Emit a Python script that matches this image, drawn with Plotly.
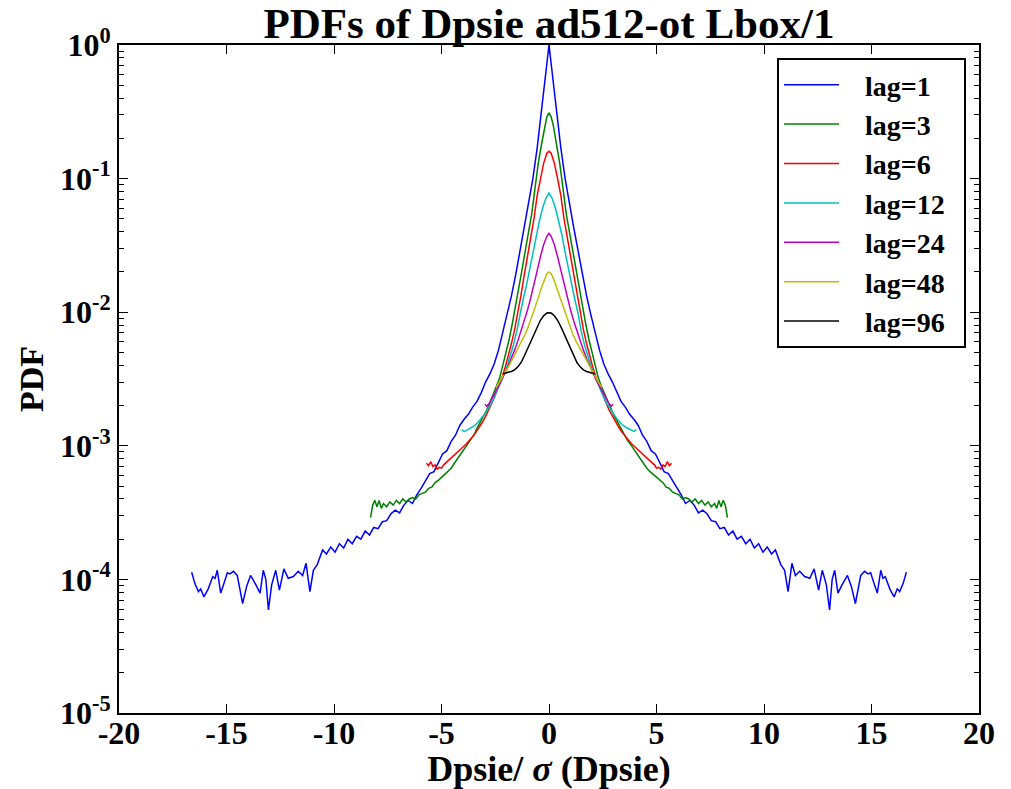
import plotly.graph_objects as go

# ---------------- data ----------------
lag1_x = [-16.62,-16.47,-16.31,-16.20,-16.05,-15.85,-15.64,-15.53,-15.43,-15.27,
          -15.12,-14.96,-14.84,-14.68,-14.50,-14.25,-14.06,-13.88,-13.63,-13.44,
          -13.29,-13.17,-13.05,-12.90,-12.71,-12.54,-12.33,-12.13,-11.89,-11.66,
          -11.46,-11.30,-11.12,-10.96,-10.78,-10.53,
          -10.35,-10.15,-9.95,-9.75,-9.55,-9.35,-9.15,-8.95,-8.75,-8.55,
          -8.35,-8.15,-7.95,-7.75,-7.55,-7.35,-7.15,-6.95,-6.75,-6.55,
          -6.35,-6.15,-5.95,-5.75,-5.55,-5.35,-5.15,-4.95,-4.75,-4.55,
          -4.35,-4.15,-3.95,-3.75,-3.55,-3.35,-3.15,-2.95,-2.75,-2.55,
          -2.35,-2.15,-1.95,-1.75,-1.55,-1.35,-1.15,-0.95,-0.75,-0.55,
          -0.45,-0.35,-0.25,-0.15,-0.05,0.0,
          0.05,0.15,0.25,0.35,0.45,
          0.55,0.75,0.95,1.15,1.35,1.55,1.75,1.95,2.15,2.35,
          2.55,2.75,2.95,3.15,3.35,3.55,3.75,3.95,4.15,4.35,
          4.55,4.75,4.95,5.15,5.35,5.55,5.75,5.95,6.15,6.35,
          6.55,6.75,6.95,7.15,7.35,7.55,7.75,7.95,8.15,8.35,
          8.55,8.75,8.95,9.15,9.35,9.55,9.75,9.95,10.15,10.35,
          10.53,10.78,10.96,11.12,11.30,11.46,
          11.66,11.89,12.13,12.33,12.54,12.71,12.90,13.05,13.17,13.29,
          13.44,13.63,13.88,14.06,14.25,14.50,14.68,14.84,14.96,15.12,
          15.27,15.43,15.53,15.64,15.85,16.05,16.20,16.31,16.47,16.62]
lag1_y = [1.13e-4,9.3e-5,8.1e-5,8.5e-5,7.4e-5,8.5e-5,1.05e-4,1.02e-4,1.17e-4,7.9e-5,
          9.3e-5,1.12e-4,1.10e-4,1.15e-4,1.07e-4,6.6e-5,8.9e-5,1.07e-4,9.1e-5,7.9e-5,
          1.17e-4,1.0e-4,5.9e-5,9.1e-5,1.17e-4,8.3e-5,1.2e-4,1.02e-4,1.05e-4,1.15e-4,
          1.07e-4,1.32e-4,8.1e-5,1.17e-4,1.29e-4,1.66e-4,
          1.55e-4,1.75e-4,1.6e-4,1.85e-4,1.72e-4,2.0e-4,1.85e-4,2.1e-4,2.0e-4,2.3e-4,
          2.15e-4,2.45e-4,2.4e-4,2.7e-4,2.75e-4,3.1e-4,3.3e-4,3.15e-4,3.6e-4,3.9e-4,
          3.7e-4,4.3e-4,4.8e-4,5.5e-4,6.2e-4,6.4e-4,7.5e-4,8.7e-4,9.2e-4,1.08e-3,
          1.2e-3,1.42e-3,1.58e-3,1.72e-3,1.95e-3,2.15e-3,2.5e-3,3.0e-3,3.45e-3,4.1e-3,
          5.2e-3,7.0e-3,9.5e-3,1.32e-2,1.9e-2,2.9e-2,4.3e-2,6.3e-2,0.10,0.17,
          0.23,0.32,0.43,0.60,0.85,1.0,
          0.85,0.60,0.43,0.32,0.23,
          0.17,0.10,6.3e-2,4.3e-2,2.9e-2,1.9e-2,1.32e-2,9.5e-3,7.0e-3,5.2e-3,
          4.1e-3,3.45e-3,3.0e-3,2.5e-3,2.15e-3,1.95e-3,1.72e-3,1.58e-3,1.42e-3,1.2e-3,
          1.08e-3,9.2e-4,8.7e-4,7.5e-4,6.4e-4,6.2e-4,5.5e-4,4.8e-4,4.3e-4,3.7e-4,
          3.9e-4,3.6e-4,3.15e-4,3.3e-4,3.1e-4,2.75e-4,2.7e-4,2.4e-4,2.45e-4,2.15e-4,
          2.3e-4,2.0e-4,2.1e-4,1.85e-4,2.0e-4,1.72e-4,1.85e-4,1.6e-4,1.75e-4,1.55e-4,
          1.66e-4,1.29e-4,1.17e-4,8.1e-5,1.32e-4,1.07e-4,
          1.15e-4,1.05e-4,1.02e-4,1.2e-4,8.3e-5,1.17e-4,9.1e-5,5.9e-5,1.0e-4,1.17e-4,
          7.9e-5,9.1e-5,1.07e-4,8.9e-5,6.6e-5,1.07e-4,1.15e-4,1.10e-4,1.12e-4,9.3e-5,
          7.9e-5,1.17e-4,1.02e-4,1.05e-4,8.5e-5,7.4e-5,8.5e-5,8.1e-5,9.3e-5,1.13e-4]

lag3_x = [-8.30,-8.20,-8.10,-8.00,-7.90,-7.80,-7.70,
          -7.55,-7.40,-7.25,-7.10,-6.95,-6.80,-6.65,-6.50,-6.35,-6.20,
          -6.05,-5.90,-5.75,-5.60,-5.45,-5.30,-5.15,-5.00,-4.85,-4.70,
          -4.55,-4.40,-4.25,-4.10,-3.95,-3.80,-3.65,-3.50,-3.35,-3.20,
          -3.05,-2.90,-2.75,-2.60,-2.45,-2.30,-2.15,-2.00,-1.85,-1.70,
          -1.55,-1.40,-1.25,-1.10,-0.95,-0.80,-0.65,-0.50,-0.35,-0.20,
          -0.10,0.0,0.10,
          0.20,0.35,0.50,0.65,0.80,0.95,1.10,1.25,1.40,1.55,
          1.70,1.85,2.00,2.15,2.30,2.45,2.60,2.75,2.90,3.05,
          3.20,3.35,3.50,3.65,3.80,3.95,4.10,4.25,4.40,4.55,
          4.70,4.85,5.00,5.15,5.30,5.45,5.60,5.75,5.90,6.05,
          6.20,6.35,6.50,6.65,6.80,6.95,7.10,7.25,7.40,7.55,
          7.70,7.80,7.90,8.00,8.10,8.20,8.30]
lag3_y = [2.9e-4,3.6e-4,3.9e-4,3.5e-4,3.9e-4,3.4e-4,3.7e-4,
          3.5e-4,3.8e-4,3.6e-4,3.9e-4,3.7e-4,4.0e-4,3.8e-4,4.0e-4,4.1e-4,4.0e-4,
          4.3e-4,4.4e-4,4.5e-4,4.8e-4,4.9e-4,5.3e-4,5.5e-4,5.8e-4,6.1e-4,6.4e-4,
          6.8e-4,7.4e-4,8.0e-4,8.7e-4,9.4e-4,1.02e-3,1.1e-3,1.2e-3,1.35e-3,1.5e-3,
          1.65e-3,1.85e-3,2.1e-3,2.4e-3,2.75e-3,3.2e-3,4.0e-3,5.0e-3,6.3e-3,8.3e-3,
          1.12e-2,1.48e-2,2.1e-2,2.9e-2,4.0e-2,5.5e-2,8.5e-2,0.13,0.18,0.25,
          0.29,0.31,0.29,
          0.25,0.18,0.13,8.5e-2,5.5e-2,4.0e-2,2.9e-2,2.1e-2,1.48e-2,1.12e-2,
          8.3e-3,6.3e-3,5.0e-3,4.0e-3,3.2e-3,2.75e-3,2.4e-3,2.1e-3,1.85e-3,1.65e-3,
          1.5e-3,1.35e-3,1.2e-3,1.1e-3,1.02e-3,9.4e-4,8.7e-4,8.0e-4,7.4e-4,6.8e-4,
          6.4e-4,6.1e-4,5.8e-4,5.5e-4,5.3e-4,4.9e-4,4.8e-4,4.5e-4,4.4e-4,4.3e-4,
          4.0e-4,4.1e-4,4.0e-4,3.8e-4,4.0e-4,3.7e-4,3.9e-4,3.6e-4,3.8e-4,3.5e-4,
          3.7e-4,3.4e-4,3.9e-4,3.5e-4,3.9e-4,3.6e-4,2.9e-4]

lag6_x = [-5.70,-5.60,-5.50,-5.40,-5.30,-5.20,-5.10,-5.00,-4.90,
          -4.75,-4.60,-4.45,-4.30,-4.15,-4.00,-3.85,-3.70,-3.55,-3.40,
          -3.25,-3.10,-2.95,-2.80,-2.65,-2.50,-2.35,-2.20,-2.05,-1.90,
          -1.75,-1.60,-1.45,-1.30,-1.15,-1.00,-0.85,-0.70,-0.55,-0.40,
          -0.25,-0.10,0.0,0.10,0.25,
          0.40,0.55,0.70,0.85,1.00,1.15,1.30,1.45,1.60,1.75,
          1.90,2.05,2.20,2.35,2.50,2.65,2.80,2.95,3.10,3.25,
          3.40,3.55,3.70,3.85,4.00,4.15,4.30,4.45,4.60,4.75,
          4.90,5.00,5.10,5.20,5.30,5.40,5.50,5.60,5.70]
lag6_y = [7.4e-4,7.1e-4,7.6e-4,7.0e-4,7.2e-4,6.7e-4,6.9e-4,6.8e-4,7.2e-4,
          7.6e-4,8.0e-4,8.4e-4,8.8e-4,9.3e-4,9.8e-4,1.03e-3,1.09e-3,1.17e-3,1.26e-3,
          1.37e-3,1.5e-3,1.66e-3,1.85e-3,2.1e-3,2.4e-3,2.75e-3,3.2e-3,3.8e-3,4.6e-3,
          5.8e-3,7.4e-3,9.8e-3,1.35e-2,1.9e-2,2.6e-2,3.6e-2,5.0e-2,7.5e-2,0.10,
          0.13,0.155,0.16,0.155,0.13,
          0.10,7.5e-2,5.0e-2,3.6e-2,2.6e-2,1.9e-2,1.35e-2,9.8e-3,7.4e-3,5.8e-3,
          4.6e-3,3.8e-3,3.2e-3,2.75e-3,2.4e-3,2.1e-3,1.85e-3,1.66e-3,1.5e-3,1.37e-3,
          1.26e-3,1.17e-3,1.09e-3,1.03e-3,9.8e-4,9.3e-4,8.8e-4,8.4e-4,8.0e-4,7.6e-4,
          7.2e-4,6.8e-4,6.9e-4,6.7e-4,7.2e-4,7.0e-4,7.6e-4,7.1e-4,7.4e-4]

lag12_x = [-4.06,-3.95,-3.85,-3.75,-3.60,-3.45,-3.30,-3.15,-3.00,-2.85,
           -2.70,-2.55,-2.40,-2.25,-2.10,-1.95,-1.80,-1.65,-1.50,-1.35,
           -1.20,-1.05,-0.90,-0.75,-0.60,-0.45,-0.30,-0.15,0.0,
           0.15,0.30,0.45,0.60,0.75,0.90,1.05,1.20,1.35,1.50,
           1.65,1.80,1.95,2.10,2.25,2.40,2.55,2.70,2.85,3.00,
           3.15,3.30,3.45,3.60,3.75,3.85,3.95,4.06]
lag12_y = [1.32e-3,1.28e-3,1.30e-3,1.33e-3,1.37e-3,1.42e-3,1.5e-3,1.6e-3,1.72e-3,1.88e-3,
           2.05e-3,2.3e-3,2.6e-3,2.95e-3,3.4e-3,3.95e-3,4.7e-3,5.7e-3,7.2e-3,9.8e-3,
           1.25e-2,1.58e-2,2.1e-2,2.8e-2,3.8e-2,4.8e-2,6.0e-2,7.1e-2,7.8e-2,
           7.1e-2,6.0e-2,4.8e-2,3.8e-2,2.8e-2,2.1e-2,1.58e-2,1.25e-2,9.8e-3,7.2e-3,
           5.7e-3,4.7e-3,3.95e-3,3.4e-3,2.95e-3,2.6e-3,2.3e-3,2.05e-3,1.88e-3,1.72e-3,
           1.6e-3,1.5e-3,1.42e-3,1.37e-3,1.33e-3,1.30e-3,1.28e-3,1.32e-3]

lag24_x = [-2.98,-2.90,-2.80,-2.65,-2.50,-2.35,-2.20,-2.05,-1.90,-1.75,
           -1.60,-1.45,-1.30,-1.15,-1.00,-0.85,-0.70,-0.55,-0.40,-0.25,
           -0.10,0.0,0.10,
           0.25,0.40,0.55,0.70,0.85,1.00,1.15,1.30,1.45,1.60,
           1.75,1.90,2.05,2.20,2.35,2.50,2.65,2.80,2.90,2.98]
lag24_y = [2.05e-3,1.98e-3,2.05e-3,2.25e-3,2.5e-3,2.8e-3,3.1e-3,3.5e-3,3.95e-3,4.5e-3,
           5.2e-3,6.1e-3,7.2e-3,8.6e-3,1.04e-2,1.28e-2,1.58e-2,2.05e-2,2.6e-2,3.2e-2,
           3.7e-2,3.9e-2,3.7e-2,
           3.2e-2,2.6e-2,2.05e-2,1.58e-2,1.28e-2,1.04e-2,8.6e-3,7.2e-3,6.1e-3,5.2e-3,
           4.5e-3,3.95e-3,3.5e-3,3.1e-3,2.8e-3,2.5e-3,2.25e-3,2.05e-3,1.98e-3,2.05e-3]

lag48_x = [-2.45,-2.30,-2.15,-2.00,-1.85,-1.70,-1.55,-1.40,-1.25,-1.10,
           -0.95,-0.80,-0.65,-0.50,-0.35,-0.20,-0.10,0.0,0.10,0.20,
           0.35,0.50,0.65,0.80,0.95,1.10,1.25,1.40,1.55,1.70,
           1.85,2.00,2.15,2.30,2.45]
lag48_y = [2.75e-3,3.0e-3,3.3e-3,3.65e-3,4.0e-3,4.45e-3,4.95e-3,5.5e-3,6.1e-3,6.9e-3,
           7.9e-3,9.2e-3,1.08e-2,1.28e-2,1.53e-2,1.8e-2,1.94e-2,2.0e-2,1.94e-2,1.8e-2,
           1.53e-2,1.28e-2,1.08e-2,9.2e-3,7.9e-3,6.9e-3,6.1e-3,5.5e-3,4.95e-3,4.45e-3,
           4.0e-3,3.65e-3,3.3e-3,3.0e-3,2.75e-3]

lag96_x = [-2.14,-2.05,-1.90,-1.75,-1.60,-1.45,-1.30,-1.15,-1.00,-0.85,
           -0.70,-0.55,-0.40,-0.25,-0.10,0.0,0.10,0.25,0.40,0.55,
           0.70,0.85,1.00,1.15,1.30,1.45,1.60,1.75,1.90,2.05,2.14]
lag96_y = [3.45e-3,3.5e-3,3.55e-3,3.6e-3,3.7e-3,3.9e-3,4.2e-3,4.7e-3,5.3e-3,6.1e-3,
           6.9e-3,7.8e-3,8.7e-3,9.4e-3,9.85e-3,9.9e-3,9.85e-3,9.4e-3,8.7e-3,7.8e-3,
           6.9e-3,6.1e-3,5.3e-3,4.7e-3,4.2e-3,3.9e-3,3.7e-3,3.6e-3,3.55e-3,3.5e-3,3.45e-3]

series_names = ["lag=1", "lag=3", "lag=6", "lag=12", "lag=24", "lag=48", "lag=96"]
series_x = [lag1_x, lag3_x, lag6_x, lag12_x, lag24_x, lag48_x, lag96_x]
series_y = [lag1_y, lag3_y, lag6_y, lag12_y, lag24_y, lag48_y, lag96_y]
series_colors = ["#0000ff", "#008000", "#ff0000", "#00bfbf", "#bf00bf", "#bfbf00", "#000000"]

x_tickvals = [-20, -15, -10, -5, 0, 5, 10, 15, 20]
x_ticktext = ["-20", "-15", "-10", "-5", "0", "5", "10", "15", "20"]
y_tickvals = [1e-5, 1e-4, 1e-3, 1e-2, 1e-1, 1]
y_ticktext = ["10<sup>-5</sup>", "10<sup>-4</sup>", "10<sup>-3</sup>",
              "10<sup>-2</sup>", "10<sup>-1</sup>", "10<sup>0</sup>"]
y_minor = [m * d for d in [1e-5, 1e-4, 1e-3, 1e-2, 1e-1] for m in range(2, 10)]

FONT = "Liberation Serif"
PAD = "\u00a0\u00a0\u00a0"
TAIL = "\u00a0\u00a0"

fig = go.Figure()
for name, xs, ys, col in zip(series_names, series_x, series_y, series_colors):
    fig.add_trace(go.Scatter(x=xs, y=ys, mode="lines", name=PAD + name + TAIL,
                             line=dict(color=col, width=1.5)))

axis_common = dict(showline=True, linecolor="black", linewidth=2, mirror="ticks",
                   ticks="inside", tickcolor="black", tickwidth=1.3,
                   showgrid=False, zeroline=False, automargin=False,
                   tickfont=dict(family=FONT, size=32, color="black", weight="bold"))

fig.update_layout(
    width=1011, height=789,
    margin=dict(l=119, r=32, t=45, b=76),
    paper_bgcolor="white", plot_bgcolor="white",
    font=dict(family=FONT, color="black"),
    title=dict(text="PDFs of Dpsie ad512-ot Lbox/1", x=0.5, xref="paper", xanchor="center",
               y=1 - 23 / 789, yref="container", yanchor="middle",
               font=dict(family=FONT, size=43, color="black", weight="bold")),
    xaxis=dict(range=[-20, 20], tickvals=x_tickvals, ticktext=x_ticktext, ticklen=9,
               ticklabelstandoff=-9,
               title=dict(text="Dpsie/ <i>σ</i> (Dpsie)", standoff=2,
                          font=dict(family=FONT, size=36, color="black", weight="bold")),
               **axis_common),
    yaxis=dict(type="log", range=[-5, 0], tickvals=y_tickvals, ticktext=y_ticktext, ticklen=9,
               minor=dict(tickvals=y_minor, ticks="inside", ticklen=5, tickcolor="black",
                          tickwidth=1, showgrid=False),
               title=dict(text="PDF", standoff=6,
                          font=dict(family=FONT, size=34, color="black", weight="bold")),
               **axis_common),
    legend=dict(x=(777 - 119) / 860, y=1 - (58 - 45) / 668, xanchor="left", yanchor="top",
                bordercolor="black", borderwidth=2, bgcolor="white",
                font=dict(family=FONT, size=28, color="black", weight="bold"),
                itemwidth=55),
    showlegend=True,
)

fig.write_html("out.html", config={"displayModeBar": False},
               post_script="document.body.style.margin='0';")
